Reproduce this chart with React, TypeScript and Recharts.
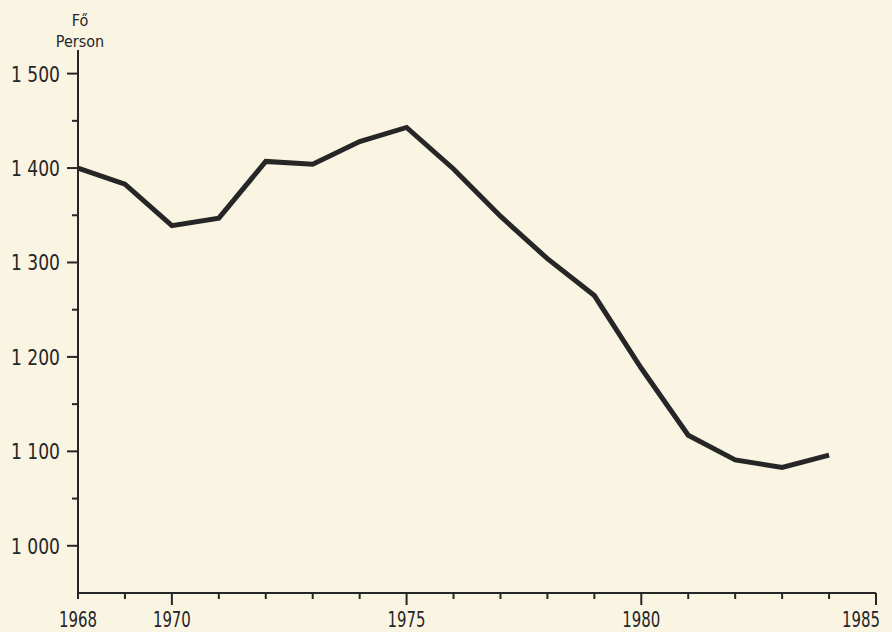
import React from 'react';
import { LineChart, Line, XAxis, YAxis } from 'recharts';

const years = [1968, 1969, 1970, 1971, 1972, 1973, 1974, 1975, 1976, 1977, 1978, 1979, 1980, 1981, 1982, 1983, 1984];
const persons = [1400, 1383, 1339, 1347, 1407, 1404, 1428, 1443, 1399, 1349, 1304, 1265, 1188, 1117, 1091, 1083, 1096];

const xTicks = [1968, 1969, 1970, 1971, 1972, 1973, 1974, 1975, 1976, 1977, 1978, 1979, 1980, 1981, 1982, 1983, 1984, 1985];
const xLabels = [1968, 1970, 1975, 1980, 1985];
const yTicks = [950, 1000, 1050, 1100, 1150, 1200, 1250, 1300, 1350, 1400, 1450, 1500];
const yLabels = [1000, 1100, 1200, 1300, 1400, 1500];
const unitTop = 'Fő';
const unitBottom = 'Person';

const data = years.map((y, i) => ({ year: y, value: persons[i] }));

const FONT = "'Liberation Sans Narrow', 'DejaVu Sans Condensed', 'Liberation Sans', sans-serif";
const INK = '#262626';
const W = 892;
const H = 632;

const fmt = (v: number) => {
  const s = String(v);
  return s.length > 3 ? s.slice(0, s.length - 3) + ' ' + s.slice(-3) : s;
};

const XTick = (props: any) => {
  const { x, y, payload } = props;
  const v = payload.value;
  const major = xLabels.includes(v) && v !== 1968;
  const lx = Math.min(x, W - 31);
  return (
    <g>
      <line x1={x} x2={x} y1={y} y2={y + (major ? 12 : 6)} stroke={INK} strokeWidth={2} />
      {xLabels.includes(v) && (
        <text
          x={lx}
          y={y + 34}
          textAnchor="middle"
          fontFamily={FONT}
          fontSize={21}
          fill={INK}
          textLength={38}
          lengthAdjust="spacingAndGlyphs"
        >
          {v}
        </text>
      )}
    </g>
  );
};

const YTick = (props: any) => {
  const { x, y, payload } = props;
  const v = payload.value;
  if (v === 950) return <g />;
  const major = yLabels.includes(v);
  return (
    <g>
      <line x1={x} x2={x - (major ? 11 : 6)} y1={y} y2={y} stroke={INK} strokeWidth={2} />
      {major && (
        <text
          x={x - 18}
          y={y}
          dy="0.36em"
          textAnchor="end"
          fontFamily={FONT}
          fontSize={22}
          fill={INK}
          textLength={49}
          lengthAdjust="spacingAndGlyphs"
        >
          {fmt(v)}
        </text>
      )}
    </g>
  );
};

export default function App() {
  return (
    <div style={{ position: 'absolute', left: 0, top: 0, width: W, height: H, background: '#FAF4E3', overflow: 'hidden' }}>
      <div style={{ position: 'absolute', left: 40, top: 10, width: 80, textAlign: 'center', fontFamily: FONT, fontSize: 16, lineHeight: '21px', color: INK }}>
        <div>{unitTop}</div>
        <div>{unitBottom}</div>
      </div>
      <LineChart width={W} height={H} data={data} margin={{ top: 50, right: 16, bottom: 0, left: 0 }}>
        <XAxis
          dataKey="year"
          type="number"
          domain={[1968, 1985]}
          ticks={xTicks}
          interval={0}
          tick={<XTick />}
          tickLine={false}
          tickSize={0}
          tickMargin={0}
          height={39}
          axisLine={{ stroke: INK, strokeWidth: 2 }}
        />
        <YAxis
          type="number"
          domain={[950, 1525]}
          ticks={yTicks}
          interval={0}
          tick={<YTick />}
          tickLine={false}
          tickSize={0}
          tickMargin={0}
          width={78}
          axisLine={{ stroke: INK, strokeWidth: 2 }}
          allowDataOverflow
        />
        <Line
          dataKey="value"
          stroke={INK}
          strokeWidth={5}
          dot={false}
          activeDot={false}
          type="linear"
          isAnimationActive={false}
        />
      </LineChart>
    </div>
  );
}
